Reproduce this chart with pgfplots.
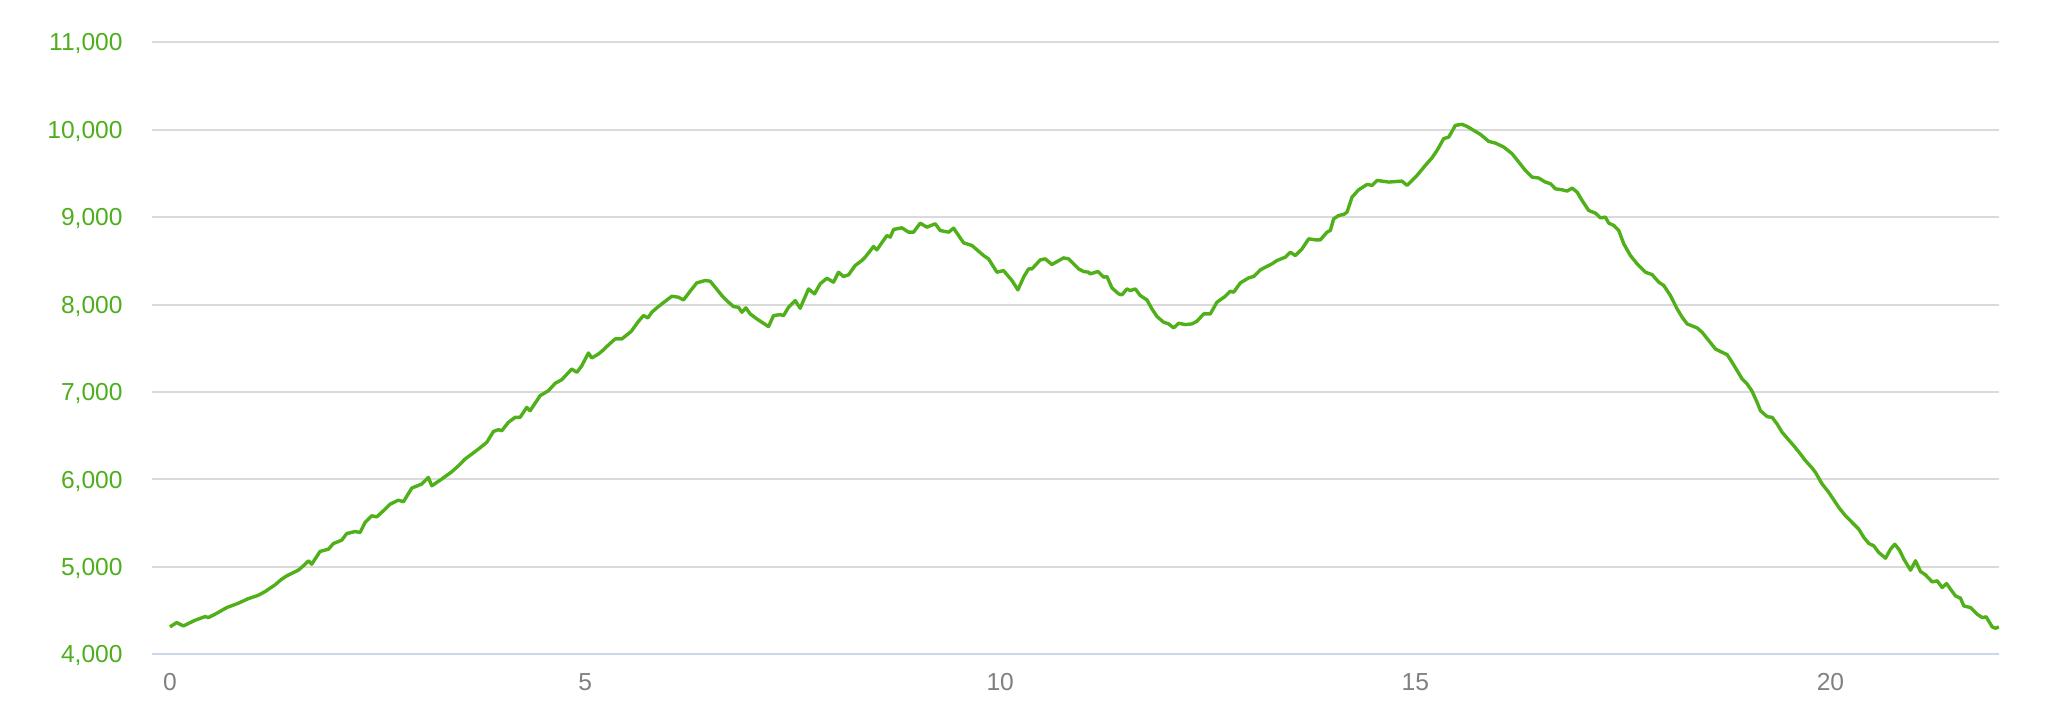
\documentclass[border=0pt]{standalone}
\usepackage{pgfplots}
\pgfplotsset{compat=1.18}
\usepackage{fontspec}
\setmainfont{Liberation Sans}
\definecolor{linegreen}{RGB}{80,176,26}
\definecolor{labelgreen}{RGB}{78,174,28}
\definecolor{gridgray}{RGB}{218,218,218}
\definecolor{axisblue}{RGB}{204,214,235}
\definecolor{xlabgray}{RGB}{128,128,128}
\begin{document}
\begin{tikzpicture}
\begin{axis}[
  scale only axis,
  width=923.5pt, height=306pt,
  xmin=-0.217, xmax=22.03,
  ymin=4000, ymax=11000,
  xtick={0,5,10,15,20},
  ytick={4000,5000,6000,7000,8000,9000,10000,11000},
  scaled y ticks=false,
  /pgf/number format/assume math mode=true,
  /pgf/number format/.cd, 1000 sep={,}, /pgfplots/.cd,
  axis x line*=bottom,
  axis y line*=left,
  x axis line style={draw=axisblue, line width=1pt, -},
  y axis line style={draw=none},
  major tick length=0pt,
  ymajorgrids,
  major grid style={draw=gridgray, line width=1pt},
  yticklabel style={anchor=base east, inner sep=0pt, xshift=-14.5pt, yshift=-4.3pt,
    text=labelgreen, font=\fontsize{12.3}{14}\selectfont},
  xticklabel style={anchor=north, inner sep=0pt, yshift=-9.35pt,
    text=xlabgray, font=\fontsize{12.3}{14}\selectfont},
  clip=false,
]
\addplot[linegreen, line width=1.7pt, line join=round, no markers] table {
x y
0.000 4313
0.080 4363
0.161 4324
0.301 4389
0.422 4431
0.462 4420
0.542 4458
0.683 4534
0.823 4584
0.944 4637
1.064 4675
1.145 4717
1.265 4794
1.345 4859
1.406 4897
1.546 4962
1.606 5012
1.667 5069
1.707 5031
1.807 5176
1.908 5202
1.968 5267
2.068 5305
2.129 5381
2.229 5404
2.289 5393
2.349 5507
2.430 5584
2.490 5572
2.570 5641
2.651 5717
2.751 5763
2.811 5744
2.912 5901
3.032 5947
3.112 6023
3.153 5927
3.273 6004
3.394 6088
3.474 6156
3.554 6233
3.715 6347
3.815 6424
3.896 6549
3.956 6569
3.996 6557
4.076 6653
4.157 6710
4.217 6710
4.297 6824
4.337 6786
4.458 6958
4.558 7015
4.639 7099
4.719 7141
4.839 7263
4.900 7225
4.960 7301
5.040 7446
5.080 7389
5.161 7435
5.201 7466
5.281 7538
5.361 7607
5.442 7607
5.542 7683
5.562 7702
5.643 7809
5.703 7874
5.755 7847
5.803 7912
5.863 7962
5.924 8008
6.044 8095
6.124 8084
6.185 8053
6.265 8153
6.345 8248
6.446 8275
6.506 8267
6.566 8198
6.647 8103
6.727 8027
6.787 7977
6.847 7969
6.888 7912
6.936 7962
6.988 7893
7.068 7836
7.129 7798
7.209 7748
7.269 7874
7.349 7885
7.390 7874
7.450 7969
7.530 8046
7.590 7958
7.691 8179
7.763 8122
7.831 8237
7.912 8301
7.992 8256
8.052 8370
8.112 8321
8.173 8340
8.253 8447
8.333 8504
8.373 8542
8.474 8664
8.514 8626
8.635 8790
8.675 8771
8.715 8859
8.815 8878
8.896 8828
8.956 8828
9.036 8931
9.116 8885
9.217 8924
9.277 8847
9.378 8828
9.438 8874
9.558 8706
9.659 8676
9.799 8561
9.859 8523
9.960 8370
10.040 8389
10.141 8275
10.213 8168
10.281 8313
10.341 8408
10.382 8408
10.482 8511
10.542 8523
10.622 8458
10.763 8534
10.823 8523
10.944 8408
11.004 8378
11.064 8370
11.084 8351
11.177 8378
11.245 8313
11.285 8321
11.345 8191
11.426 8122
11.466 8111
11.526 8179
11.566 8160
11.627 8179
11.687 8103
11.767 8053
11.827 7950
11.888 7863
11.968 7798
12.028 7779
12.088 7733
12.149 7786
12.229 7771
12.309 7779
12.369 7809
12.450 7893
12.530 7893
12.610 8027
12.711 8095
12.771 8153
12.811 8141
12.892 8248
12.992 8305
13.052 8321
13.133 8397
13.193 8427
13.273 8466
13.333 8504
13.434 8542
13.494 8599
13.554 8561
13.635 8637
13.715 8752
13.795 8740
13.855 8740
13.936 8828
13.976 8847
14.016 8981
14.076 9019
14.137 9031
14.177 9057
14.237 9229
14.317 9313
14.418 9374
14.478 9363
14.538 9420
14.598 9412
14.679 9401
14.779 9408
14.839 9412
14.900 9363
15.020 9477
15.120 9592
15.201 9679
15.261 9763
15.341 9897
15.402 9916
15.482 10050
15.562 10061
15.622 10038
15.703 9992
15.783 9947
15.884 9866
15.964 9847
16.064 9802
16.165 9725
16.245 9630
16.325 9534
16.406 9458
16.486 9447
16.566 9401
16.627 9382
16.687 9324
16.767 9313
16.827 9298
16.888 9332
16.948 9286
17.008 9191
17.088 9076
17.169 9046
17.229 8992
17.289 9000
17.329 8931
17.390 8905
17.450 8847
17.510 8695
17.590 8561
17.671 8466
17.771 8370
17.851 8343
17.932 8256
17.992 8218
18.072 8103
18.153 7950
18.213 7855
18.273 7779
18.394 7733
18.454 7683
18.534 7588
18.614 7492
18.695 7454
18.755 7427
18.815 7340
18.876 7244
18.936 7149
18.996 7092
19.056 7008
19.116 6882
19.157 6786
19.237 6718
19.297 6710
19.357 6634
19.418 6538
19.498 6450
19.558 6385
19.639 6290
19.699 6214
19.779 6130
19.819 6080
19.900 5947
19.980 5851
20.020 5794
20.100 5679
20.181 5584
20.281 5488
20.341 5431
20.402 5336
20.462 5267
20.522 5240
20.582 5164
20.663 5099
20.723 5202
20.775 5259
20.831 5191
20.884 5088
20.964 4962
21.024 5069
21.084 4947
21.145 4908
21.225 4828
21.285 4840
21.345 4763
21.398 4809
21.446 4744
21.506 4668
21.566 4641
21.606 4553
21.687 4534
21.767 4458
21.827 4420
21.875 4428
21.948 4313
21.988 4298
22.028 4313
};
\end{axis}
\path ([xshift=-76pt,yshift=-33.85pt]current axis.south west) rectangle ([xshift=24.5pt,yshift=21.15pt]current axis.north east);
\end{tikzpicture}
\end{document}
